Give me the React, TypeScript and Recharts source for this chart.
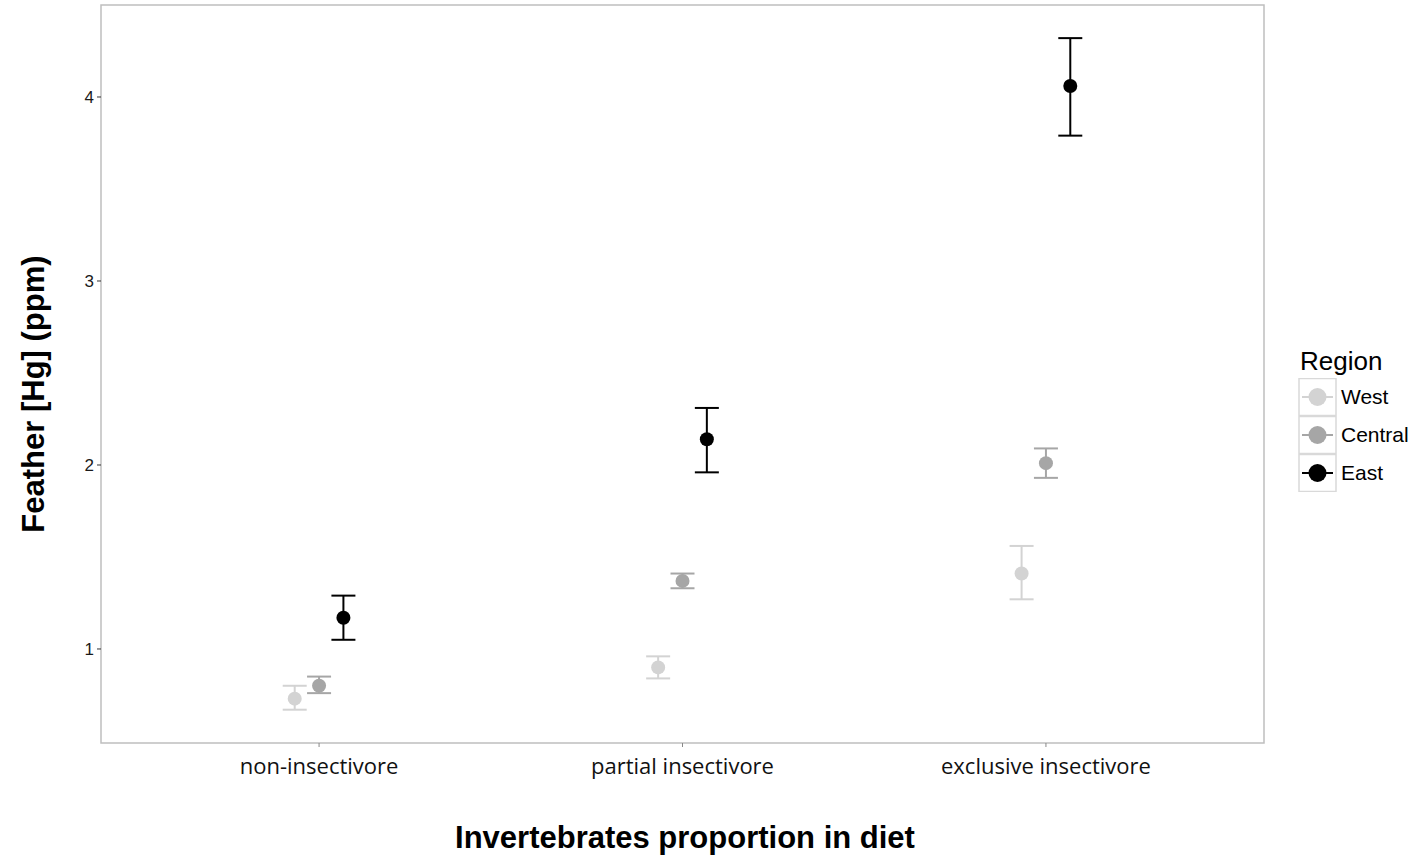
import {
  ScatterChart,
  Scatter,
  XAxis,
  YAxis,
  ErrorBar,
  ReferenceArea,
  Label,
} from "recharts";

const CATEGORIES = ["non-insectivore", "partial insectivore", "exclusive insectivore"];
const REGIONS = ["West", "Central", "East"];
const REGION_COLORS = ["#d3d3d3", "#a6a6a6", "#000000"];
const DODGE = [-0.067, 0, 0.067];

// means and interval bounds, per category
const WEST_MEAN = [0.73, 0.9, 1.41];
const WEST_LOW = [0.67, 0.84, 1.27];
const WEST_HIGH = [0.8, 0.96, 1.56];

const CENTRAL_MEAN = [0.8, 1.37, 2.01];
const CENTRAL_LOW = [0.76, 1.33, 1.93];
const CENTRAL_HIGH = [0.85, 1.41, 2.09];

const EAST_MEAN = [1.17, 2.14, 4.06];
const EAST_LOW = [1.05, 1.96, 3.79];
const EAST_HIGH = [1.29, 2.31, 4.32];

const Y_TICKS = [1, 2, 3, 4];
const Y_DOMAIN: [number, number] = [0.489, 4.5];
const X_DOMAIN: [number, number] = [0.4, 3.6];

const SERIES = [
  { mean: WEST_MEAN, low: WEST_LOW, high: WEST_HIGH },
  { mean: CENTRAL_MEAN, low: CENTRAL_LOW, high: CENTRAL_HIGH },
  { mean: EAST_MEAN, low: EAST_LOW, high: EAST_HIGH },
];

const SANS = "'Liberation Sans', Arial, sans-serif";

function buildPoints(regionIndex: number) {
  const s = SERIES[regionIndex];
  return CATEGORIES.map((_, i) => ({
    x: i + 1 + DODGE[regionIndex],
    y: s.mean[i],
    err: [s.mean[i] - s.low[i], s.high[i] - s.mean[i]],
  }));
}

const Dot = ({ cx, cy, fill }: { cx?: number; cy?: number; fill?: string }) => {
  if (cx === undefined || cy === undefined) return null;
  return <circle cx={cx} cy={cy} r={7} fill={fill} />;
};

// ggplot puts the y title a little below the panel centre, so it is placed by hand
const YTitle = () => (
  <text
    x={44}
    y={394}
    transform="rotate(-90, 44, 394)"
    textAnchor="middle"
    style={{ fontFamily: SANS, fontWeight: 700, fontSize: 31, fill: "#000" }}
  >
    Feather [Hg] (ppm)
  </text>
);

const XTitle = () => (
  <text
    x={685}
    y={848}
    textAnchor="middle"
    style={{ fontFamily: SANS, fontWeight: 700, fontSize: 31, fill: "#000" }}
  >
    Invertebrates proportion in diet
  </text>
);

const RegionLegend = () => (
  <div
    style={{
      position: "absolute",
      left: 1298,
      top: 346,
      fontFamily: SANS,
      color: "#000",
    }}
  >
    <div style={{ fontSize: 26, lineHeight: "30px", marginBottom: 2, marginLeft: 2 }}>Region</div>
    {REGIONS.map((name, i) => (
      <div key={name} style={{ display: "flex", alignItems: "center", height: 38 }}>
        <svg width={39} height={38} style={{ display: "block" }}>
          <rect x={1} y={0.5} width={37} height={37} fill="#fff" stroke="#d9d9d9" strokeWidth={1.5} />
          <line x1={4} x2={35} y1={19} y2={19} stroke={REGION_COLORS[i]} strokeWidth={2} />
          <circle cx={19.5} cy={19} r={9} fill={REGION_COLORS[i]} />
        </svg>
        <span style={{ fontSize: 21, marginLeft: 4 }}>{name}</span>
      </div>
    ))}
  </div>
);

export default function App() {
  return (
    <div style={{ position: "absolute", left: 0, top: 0, width: 1419, height: 860, background: "#fff" }}>
      <ScatterChart
        width={1419}
        height={860}
        margin={{ top: 5, right: 155, bottom: 0, left: 0 }}
      >
        <XAxis
          type="number"
          dataKey="x"
          domain={X_DOMAIN}
          ticks={[1, 2, 3]}
          interval={0}
          height={117}
          axisLine={false}
          tickLine={{ stroke: "#888", strokeWidth: 1 }}
          tickSize={4}
          tick={{ fill: "#111", fontSize: 22, fontFamily: "'Open Sans', sans-serif" }}
          tickMargin={11}
          tickFormatter={(v) => CATEGORIES[Number(v) - 1] ?? ""}
        >
          <Label content={<XTitle />} />
        </XAxis>
        <YAxis
          type="number"
          dataKey="y"
          domain={Y_DOMAIN}
          ticks={Y_TICKS}
          interval={0}
          width={101}
          axisLine={false}
          tickLine={{ stroke: "#333", strokeWidth: 1 }}
          tickSize={4}
          tick={{ fill: "#1a1a1a", fontSize: 17, fontFamily: SANS }}
          tickMargin={3}
          allowDataOverflow
        >
          <Label content={<YTitle />} />
        </YAxis>
        <ReferenceArea
          x1={X_DOMAIN[0]}
          x2={X_DOMAIN[1]}
          y1={Y_DOMAIN[0]}
          y2={Y_DOMAIN[1]}
          fill="none"
          stroke="#bfbfbf"
          strokeWidth={1.5}
          ifOverflow="visible"
        />
        {REGIONS.map((name, i) => (
          <Scatter
            key={name}
            name={name}
            data={buildPoints(i)}
            fill={REGION_COLORS[i]}
            shape={<Dot fill={REGION_COLORS[i]} />}
            isAnimationActive={false}
          >
            <ErrorBar
              dataKey="err"
              direction="y"
              width={12}
              stroke={REGION_COLORS[i]}
              strokeWidth={2}
              isAnimationActive={false}
            />
          </Scatter>
        ))}
      </ScatterChart>
      <RegionLegend />
    </div>
  );
}
